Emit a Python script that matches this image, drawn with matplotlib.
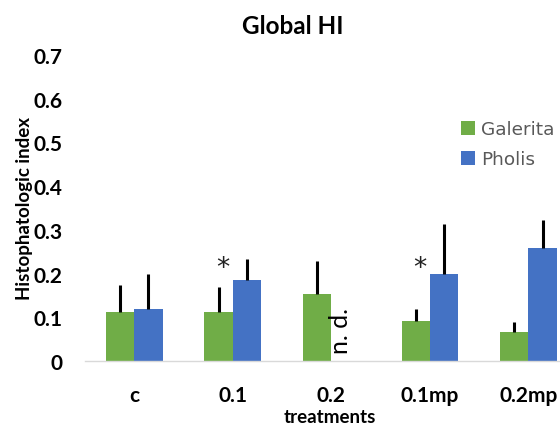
import numpy as np
import matplotlib
matplotlib.use('Agg')
import matplotlib.pyplot as plt

# data
categories = ["c", "0.1", "0.2", "0.1mp", "0.2mp"]
galerita = [0.113, 0.113, 0.153, 0.092, 0.066]
galerita_err = [0.062, 0.056, 0.076, 0.027, 0.024]
pholis = [0.120, 0.186, np.nan, 0.198, 0.258]
pholis_err = [0.080, 0.047, np.nan, 0.115, 0.065]
star_groups = [1, 3]

green = "#70AD47"
blue = "#4472C4"

plt.rcParams["font.family"] = ["Lato", "DejaVu Sans"]

fig = plt.figure(figsize=(5.6, 4.27), dpi=100)
ax = fig.add_axes([85 / 560, 1 - 362 / 427, 475 / 560, (362 - 56) / 427])

x = np.arange(len(categories))
w = 0.2875
ax.bar(x - w / 2, galerita, w, color=green, label="Galerita")
ax.bar(x + w / 2, pholis, w, color=blue, label="Pholis")

# one-sided error bars (upper only)
ax.vlines(x - w / 2, galerita, np.array(galerita) + np.array(galerita_err), color="black", lw=2.2)
ax.vlines(x + w / 2, pholis, np.array(pholis) + np.array(pholis_err), color="black", lw=2.2)

for g in star_groups:
    ax.text(g - 0.1, 0.212, "*", ha="center", va="center", fontsize=19, color="#222222",
            family="DejaVu Sans")

ax.text(2.09, 0.071, "n. d.", rotation=90, ha="center", va="center", fontsize=18, color="black")

ax.set_xlim(-0.5, 4.32)
ax.set_ylim(0, 0.7)
ax.set_yticks([0, 0.1, 0.2, 0.3, 0.4, 0.5, 0.6, 0.7])
ax.set_yticklabels(["0", "0.1", "0.2", "0.3", "0.4", "0.5", "0.6", "0.7"])
ax.set_xticks(x)
ax.set_xticklabels(categories)
ax.tick_params(axis="y", length=0, pad=16, labelsize=15)
ax.tick_params(axis="x", length=0, pad=17, labelsize=15)
for lab in ax.get_xticklabels() + ax.get_yticklabels():
    lab.set_fontweight("bold")

for s in ["top", "right", "left"]:
    ax.spines[s].set_visible(False)
ax.spines["bottom"].set_color("#D9D9D9")
ax.spines["bottom"].set_linewidth(1)

fig.text(293 / 560, 1 - 26 / 427, "Global HI", ha="center", va="center", fontsize=17.5, fontweight="bold")
fig.text(25 / 560, 1 - 208 / 427, "Histophatologic index", rotation=90, ha="center", va="center",
         fontsize=13.5, fontweight="bold")
fig.text(330 / 560, 1 - 418 / 427, "treatments", ha="center", va="center", fontsize=13.5, fontweight="bold")

leg = ax.legend(loc="upper left", bbox_to_anchor=(454 / 560, 1 - 114 / 427), bbox_transform=fig.transFigure,
                frameon=False, prop={"family": "DejaVu Sans", "size": 13.3}, handlelength=0.72,
                handleheight=0.72, handletextpad=0.35, labelspacing=0.65, borderaxespad=0)
for t in leg.get_texts():
    t.set_color("#595959")

fig.savefig("out.png", dpi=100)
